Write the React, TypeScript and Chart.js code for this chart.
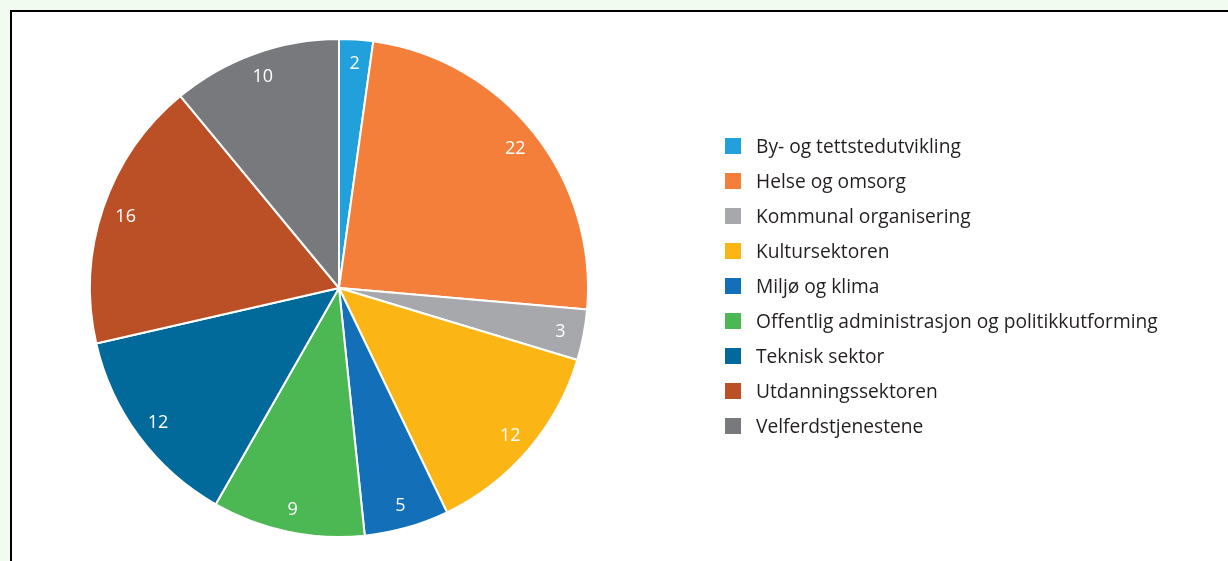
import React, { useEffect, useRef } from "react";
import { Chart, registerables } from "chart.js";

Chart.register(...registerables);

const categories = [
  "By- og tettstedutvikling",
  "Helse og omsorg",
  "Kommunal organisering",
  "Kultursektoren",
  "Miljø og klima",
  "Offentlig administrasjon og politikkutforming",
  "Teknisk sektor",
  "Utdanningssektoren",
  "Velferdstjenestene",
];
const values = [2, 22, 3, 12, 5, 9, 12, 16, 10];
const colors = [
  "#22a0db",
  "#f47f3a",
  "#a7a8ab",
  "#fbb616",
  "#1370b8",
  "#4cb853",
  "#02699b",
  "#bb4f26",
  "#78797d",
];

const FONT = "'Open Sans', 'Noto Sans', sans-serif";

const sliceLabels = {
  id: "sliceLabels",
  afterDatasetsDraw(chart: any) {
    const ctx = chart.ctx;
    const meta = chart.getDatasetMeta(0);
    const data = chart.data.datasets[0].data as number[];
    ctx.save();
    ctx.fillStyle = "#ffffff";
    ctx.font = `18px ${FONT}`;
    ctx.textAlign = "center";
    ctx.textBaseline = "middle";
    meta.data.forEach((arc: any, i: number) => {
      const p = arc.getProps(["x", "y", "startAngle", "endAngle", "outerRadius"], true);
      const mid = (p.startAngle + p.endAngle) / 2;
      const r = p.outerRadius * 0.905;
      ctx.fillText(String(data[i]), p.x + Math.cos(mid) * r, p.y + Math.sin(mid) * r + 1);
    });
    ctx.restore();
  },
};

const sideLegend = {
  id: "sideLegend",
  afterDraw(chart: any) {
    const ctx = chart.ctx;
    const labels = chart.data.labels as string[];
    const bg = chart.data.datasets[0].backgroundColor as string[];
    const x0 = 725;
    const y0 = 146;
    const step = 35;
    ctx.save();
    ctx.font = `19.2px ${FONT}`;
    ctx.textBaseline = "middle";
    ctx.textAlign = "left";
    labels.forEach((lab, i) => {
      const y = y0 + i * step;
      ctx.fillStyle = bg[i];
      ctx.fillRect(x0, y - 8, 16, 16);
      ctx.fillStyle = "#231f20";
      ctx.fillText(lab, x0 + 31, y + 2);
    });
    ctx.restore();
  },
};

export default function App() {
  const ref = useRef<HTMLCanvasElement | null>(null);
  useEffect(() => {
    document.body.style.margin = "0";
    if (!ref.current) return;
    const chart = new Chart(ref.current, {
      type: "pie",
      data: {
        labels: categories,
        datasets: [
          {
            data: values,
            backgroundColor: colors,
            borderColor: "#ffffff",
            borderWidth: 2,
          },
        ],
      },
      options: {
        animation: false,
        responsive: false,
        maintainAspectRatio: false,
        layout: { padding: { left: 89, top: 37, right: 639, bottom: 22 } },
        plugins: {
          legend: { display: false },
          tooltip: { enabled: false },
        },
      },
      plugins: [sliceLabels, sideLegend],
    });
    return () => chart.destroy();
  }, []);

  return (
    <div
      style={{
        position: "relative",
        width: 1228,
        height: 561,
        background: "#f1fbf0",
        overflow: "hidden",
      }}
    >
      <div
        style={{
          position: "absolute",
          left: 10,
          top: 10,
          width: 1240,
          height: 600,
          background: "#ffffff",
          border: "2px solid #000000",
        }}
      />
      <canvas
        ref={ref}
        width={1228}
        height={561}
        style={{ position: "absolute", left: 0, top: 0, width: 1228, height: 561 }}
      />
    </div>
  );
}
